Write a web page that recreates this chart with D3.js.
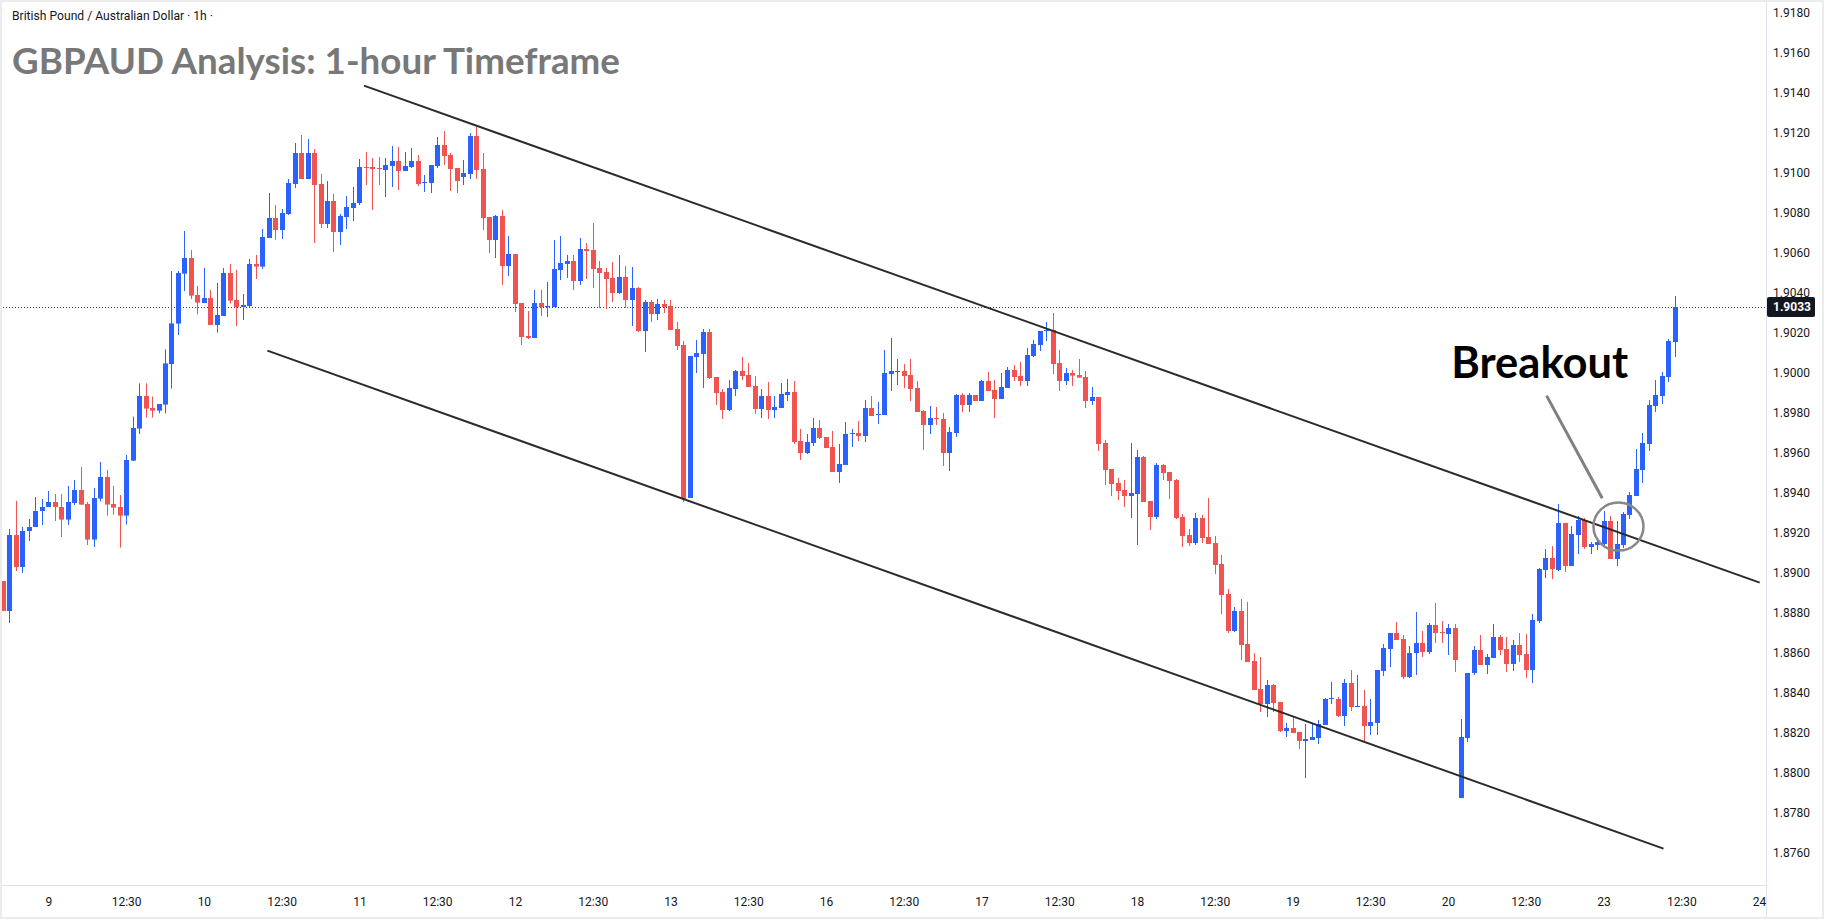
<!DOCTYPE html>
<html>
<head>
<meta charset="utf-8">
<script src="https://cdn.jsdelivr.net/npm/d3@7"></script>
<style>
  html, body { margin: 0; padding: 0; background: #fff; }
  svg { display: block; }
  .axis text { font-family: Roboto, "Liberation Sans", sans-serif; font-size: 12px; fill: #131722; }
  .axis path, .axis line { display: none; }
</style>
</head>
<body>
<svg id="chart" width="1824" height="919"></svg>
<script>
// GBPAUD 1h candles, oldest first
const opens = [1.8896,1.8881,1.8919,1.8903,1.8921,1.8923,1.8931,1.8933,1.89355,1.8933,1.89267,1.8935,1.89415,1.89345,1.89167,1.89372,1.8948,1.89345,1.8933,1.89287,
  1.89562,1.89722,1.89885,1.89825,1.89812,1.89842,1.90045,1.90247,1.90497,1.90575,1.9039,1.9035,1.90375,1.9024,1.90285,1.905,1.90365,1.9033,1.90335,1.90545,
  1.90532,1.90675,1.90775,1.90715,1.90795,1.90945,1.911,1.9097,1.911,1.90945,1.90745,1.9086,1.90705,1.9078,1.90825,1.9085,1.9103,1.9103,1.91025,1.91015,
  1.91035,1.9106,1.9101,1.9103,1.9106,1.9095,1.9095,1.91035,1.9114,1.9109,1.91025,1.9098,1.90995,1.91185,1.9102,1.9078,1.90665,1.90785,1.90535,1.90595,
  1.9035,1.90185,1.90175,1.9035,1.9033,1.9033,1.90515,1.90545,1.9056,1.9046,1.9062,1.90615,1.90525,1.90505,1.90475,1.904,1.9048,1.90365,1.90425,1.9021,
  1.90355,1.90295,1.90345,1.90335,1.9022,1.9014,1.89375,1.9008,1.90095,1.90205,1.8998,1.89905,1.89815,1.8992,1.9001,1.8999,1.89935,1.8982,1.89885,1.89815,
  1.89825,1.8989,1.89905,1.8966,1.896,1.8965,1.89725,1.8968,1.8963,1.89505,1.8954,1.89695,1.897,1.89685,1.89825,1.8979,1.8979,1.89995,1.90005,1.9001,
  1.8999,1.89925,1.8981,1.8974,1.89775,1.8977,1.896,1.897,1.8989,1.8984,1.8989,1.8986,1.8996,1.89915,1.8987,1.89925,1.90015,1.89985,1.8996,1.90085,
  1.9014,1.9021,1.90215,1.9005,1.8996,1.9,1.8999,1.8998,1.8986,1.8988,1.8965,1.8952,1.8945,1.89415,1.89385,1.89395,1.8958,1.8936,1.8928,1.8954,
  1.89505,1.89465,1.8928,1.8919,1.8915,1.89275,1.8918,1.8915,1.89045,1.88895,1.8871,1.8881,1.88645,1.8856,1.8842,1.88345,1.8844,1.88355,1.8821,1.88225,
  1.88205,1.8816,1.88165,1.88175,1.8824,1.8837,1.8837,1.88285,1.8845,1.8833,1.88335,1.88235,1.8825,1.8851,1.8862,1.887,1.8867,1.8848,1.886,1.8865,
  1.88605,1.8874,1.88705,1.88695,1.88725,1.87875,1.88175,1.885,1.88615,1.8854,1.88575,1.8868,1.8862,1.88545,1.8864,1.88595,1.88515,1.8876,1.89015,1.89075,
  1.89015,1.8925,1.89035,1.8919,1.89265,1.8913,1.8914,1.89145,1.8926,1.8907,1.8914,1.8929,1.89385,1.89515,1.89645,1.89835,1.89885,1.8998,1.90155];
const highs = [1.8896,1.8922,1.8936,1.8923,1.8927,1.8938,1.8937,1.8941,1.89395,1.89395,1.89435,1.89465,1.8953,1.89355,1.89425,1.89555,1.89515,1.89435,1.8939,1.8959,
  1.89782,1.89948,1.89948,1.89882,1.89845,1.90118,1.9051,1.9051,1.9071,1.90615,1.90435,1.90525,1.90415,1.9045,1.90525,1.90545,1.90515,1.90395,1.9057,1.9059,
  1.9072,1.909,1.9084,1.9082,1.9097,1.9115,1.9119,1.9117,1.9112,1.90995,1.9096,1.90895,1.90795,1.90885,1.9093,1.9107,1.91105,1.91075,1.9108,1.91075,
  1.91135,1.9113,1.91105,1.91125,1.9109,1.9099,1.9104,1.9118,1.9121,1.911,1.91025,1.91065,1.912,1.9123,1.911,1.9078,1.9079,1.90815,1.90685,1.90595,
  1.9035,1.9031,1.90415,1.90415,1.90455,1.90665,1.90685,1.9059,1.9059,1.90675,1.9065,1.9075,1.9056,1.90525,1.90555,1.9059,1.90535,1.9053,1.9043,1.90365,
  1.90365,1.9037,1.90365,1.90365,1.90255,1.9016,1.90085,1.90165,1.9022,1.9022,1.8998,1.8992,1.89965,1.90015,1.9008,1.9005,1.89985,1.8992,1.89955,1.89885,
  1.8995,1.8997,1.8996,1.8972,1.89695,1.89775,1.89765,1.8968,1.8971,1.89645,1.89755,1.8972,1.8976,1.89865,1.89885,1.89855,1.90115,1.90175,1.9007,1.90045,
  1.9007,1.8996,1.89815,1.89835,1.8983,1.898,1.8973,1.89895,1.899,1.899,1.8989,1.89965,1.90005,1.89965,1.9,1.9003,1.9004,1.90055,1.90125,1.90165,
  1.9021,1.90255,1.903,1.90115,1.90025,1.90015,1.9007,1.9001,1.8993,1.8988,1.89665,1.8952,1.89475,1.89465,1.8965,1.89615,1.89585,1.8936,1.8955,1.89545,
  1.89505,1.8947,1.89295,1.8922,1.893,1.8929,1.89375,1.89185,1.8909,1.8892,1.8883,1.8887,1.88855,1.886,1.8858,1.88465,1.88445,1.88355,1.8825,1.88285,
  1.88205,1.88245,1.88245,1.88265,1.88375,1.88455,1.8838,1.8847,1.88515,1.8849,1.88415,1.8837,1.88515,1.88645,1.887,1.88755,1.8869,1.88635,1.88805,1.8871,
  1.8875,1.8885,1.8876,1.88745,1.88745,1.8827,1.885,1.88635,1.8869,1.88595,1.88745,1.8869,1.8868,1.88665,1.887,1.88695,1.88795,1.89025,1.8912,1.89135,
  1.89345,1.8925,1.89235,1.89285,1.89275,1.89155,1.8917,1.8931,1.89285,1.8926,1.89305,1.89405,1.8962,1.897,1.89865,1.89965,1.90005,1.9017,1.90385];
const lows = [1.8881,1.8875,1.8901,1.89,1.8916,1.8923,1.8924,1.8933,1.8926,1.8918,1.8924,1.8934,1.8934,1.8914,1.8913,1.89357,1.89287,1.89292,1.89127,1.89242,
  1.8956,1.89695,1.89777,1.89777,1.89798,1.89798,1.89922,1.9019,1.9041,1.9037,1.90293,1.9035,1.9024,1.90202,1.90285,1.90347,1.90235,1.90265,1.9033,1.9047,
  1.9052,1.90675,1.90667,1.9067,1.9079,1.90925,1.9097,1.9097,1.9065,1.90725,1.90725,1.90605,1.9064,1.9072,1.9076,1.9084,1.9094,1.90815,1.9094,1.9088,
  1.9093,1.90915,1.9101,1.91025,1.90935,1.90905,1.909,1.91025,1.9104,1.9091,1.909,1.9094,1.9097,1.9097,1.90715,1.906,1.90575,1.9044,1.90485,1.90305,
  1.9014,1.9017,1.90175,1.90285,1.9028,1.9033,1.90465,1.90475,1.90415,1.9044,1.9047,1.90425,1.90325,1.9032,1.90355,1.90395,1.90325,1.90235,1.90205,1.90105,
  1.90255,1.90265,1.903,1.90215,1.90115,1.89355,1.89375,1.9,1.89925,1.8997,1.8984,1.8977,1.8981,1.89885,1.89965,1.8993,1.89795,1.89775,1.8977,1.89775,
  1.89825,1.8986,1.89645,1.89565,1.89595,1.89635,1.8967,1.89625,1.89505,1.8945,1.8954,1.8963,1.8966,1.89655,1.89785,1.89745,1.8979,1.8991,1.8994,1.89925,
  1.8986,1.89805,1.89615,1.89695,1.8974,1.89535,1.8951,1.8968,1.89805,1.89805,1.8986,1.8986,1.8991,1.89775,1.8987,1.89925,1.8996,1.89935,1.89935,1.9008,
  1.9011,1.9016,1.89995,1.8991,1.8994,1.89935,1.89977,1.89825,1.8984,1.8961,1.8944,1.89385,1.89365,1.8933,1.89275,1.8914,1.89355,1.89215,1.8927,1.89465,
  1.8937,1.8927,1.8913,1.89135,1.8914,1.8915,1.89145,1.88995,1.88795,1.887,1.88705,1.88565,1.88555,1.88415,1.88305,1.8828,1.88305,1.88205,1.8818,1.882,
  1.8812,1.87975,1.88165,1.88145,1.8824,1.88345,1.8828,1.88235,1.8831,1.8833,1.88155,1.8819,1.8819,1.88485,1.8853,1.88665,1.8847,1.88475,1.8849,1.8858,
  1.88595,1.8865,1.8865,1.8859,1.88505,1.87875,1.88155,1.8849,1.8854,1.88495,1.88575,1.8859,1.88505,1.8851,1.88555,1.88475,1.8845,1.8875,1.88975,1.8897,
  1.8901,1.89005,1.89035,1.89095,1.8912,1.89095,1.89115,1.8914,1.8907,1.89035,1.89125,1.8927,1.89385,1.8945,1.8961,1.89805,1.89845,1.89955,1.9008];
const closes = [1.8881,1.8919,1.8903,1.8921,1.8923,1.8931,1.8933,1.89355,1.8933,1.89267,1.89355,1.89415,1.89342,1.89167,1.89375,1.8948,1.89342,1.89327,1.89287,1.89565,
  1.89725,1.89885,1.89822,1.89812,1.89845,1.90048,1.90248,1.905,1.90575,1.90387,1.90352,1.90375,1.9024,1.9029,1.905,1.90362,1.9033,1.9034,1.90545,1.90532,
  1.9068,1.90775,1.90715,1.908,1.9095,1.911,1.9097,1.911,1.9094,1.90745,1.9086,1.90705,1.90785,1.9083,1.9085,1.9103,1.91025,1.9102,1.9102,1.9104,
  1.9106,1.9101,1.91035,1.9106,1.90945,1.90955,1.9104,1.9114,1.91085,1.9102,1.9096,1.91,1.91185,1.91015,1.90775,1.90665,1.90785,1.90535,1.90595,1.90345,
  1.9018,1.90175,1.9035,1.9033,1.90335,1.9052,1.9055,1.9056,1.9046,1.9062,1.9061,1.9052,1.905,1.9047,1.904,1.9048,1.90365,1.90425,1.9021,1.90355,
  1.90295,1.90345,1.9033,1.90215,1.90135,1.8937,1.90085,1.901,1.90205,1.89975,1.899,1.89815,1.89925,1.9001,1.89985,1.8993,1.8982,1.89885,1.89815,1.8983,
  1.89895,1.89905,1.89655,1.896,1.89655,1.89725,1.89675,1.89625,1.89505,1.89545,1.89695,1.897,1.89685,1.89825,1.89785,1.89795,1.9,1.9001,1.9001,1.89985,
  1.8992,1.89805,1.8974,1.89775,1.8977,1.896,1.89705,1.8989,1.8984,1.8989,1.8986,1.8996,1.8991,1.8987,1.8993,1.90015,1.8998,1.8996,1.9009,1.90145,
  1.9021,1.90215,1.90045,1.8996,1.9,1.89987,1.89977,1.8986,1.8988,1.89645,1.89515,1.89445,1.8941,1.89385,1.894,1.8958,1.89355,1.8928,1.8954,1.895,
  1.8946,1.89275,1.89185,1.8915,1.89275,1.89175,1.89145,1.8904,1.8889,1.8871,1.8881,1.8864,1.88555,1.88415,1.88345,1.8844,1.8835,1.8821,1.88225,1.882,
  1.8816,1.8817,1.8818,1.88245,1.8837,1.88375,1.88285,1.8845,1.8833,1.88335,1.88235,1.88255,1.88515,1.88625,1.887,1.88665,1.8848,1.886,1.8865,1.88605,
  1.8874,1.887,1.887,1.88725,1.88565,1.8818,1.885,1.88615,1.8854,1.8858,1.8868,1.88615,1.88545,1.8864,1.8859,1.88515,1.88765,1.8902,1.89075,1.8902,
  1.8925,1.89035,1.89195,1.89265,1.8913,1.89145,1.89155,1.8926,1.8907,1.89145,1.89295,1.8939,1.8952,1.8965,1.8984,1.8989,1.89985,1.9016,1.9033];

// time axis: a label every 12 bars, starting with day 9
const timeLabels = ["9","12:30","10","12:30","11","12:30","12","12:30","13","12:30","16","12:30",
  "17","12:30","18","12:30","19","12:30","20","12:30","23","12:30","24"];
const firstLabelBar = 7;
const priceTicks = d3.range(1.876, 1.9181, 0.002);
const lastPrice = 1.9033;

// drawings on the chart (bar index, price)
const upperChannel = [[55.7, 1.91437], [271.1, 1.88952]];
const lowerChannel = [[40.8, 1.90112], [256.25, 1.87622]];
const breakoutCircle = [249.3, 1.89232];
const breakoutPointer = [[238.2, 1.89887], [246.8, 1.89374]];
const breakoutText = [223.5, 1.89975];

const W = 1824, H = 919;
const plotRight = 1766, plotBottom = 885;
const blue = "#2962ff", red = "#f05350";

const svg = d3.select("#chart");

const x = d3.scaleLinear().domain([0, 271]).range([3, 3 + 6.48 * 271]);
const y = d3.scaleLinear().domain([1.876, 1.918]).range([853, 13]);

svg.append("rect").attr("width", W).attr("height", H).attr("fill", "#fff");

svg.append("clipPath").attr("id", "plotClip")
  .append("rect").attr("x", 2).attr("y", 2).attr("width", plotRight - 2).attr("height", plotBottom - 2);

const plot = svg.append("g").attr("clip-path", "url(#plotClip)");

// last price dotted line
plot.append("line")
  .attr("x1", 0).attr("x2", plotRight)
  .attr("y1", Math.round(y(lastPrice)) + 0.5).attr("y2", Math.round(y(lastPrice)) + 0.5)
  .attr("stroke", "#363a45").attr("stroke-width", 1).attr("stroke-dasharray", "1,2");

const bars = d3.range(opens.length);
const candles = plot.append("g");

candles.selectAll(".wick")
  .data(bars)
  .enter().append("line")
  .attr("class", "wick")
  .attr("x1", i => Math.round(x(i)) + 0.5)
  .attr("x2", i => Math.round(x(i)) + 0.5)
  .attr("y1", i => y(highs[i]))
  .attr("y2", i => y(lows[i]))
  .attr("stroke", i => closes[i] >= opens[i] ? blue : red)
  .attr("stroke-width", 1);

candles.selectAll(".body")
  .data(bars)
  .enter().append("rect")
  .attr("class", "body")
  .attr("x", i => Math.round(x(i)) - 2)
  .attr("width", 5)
  .attr("y", i => y(Math.max(opens[i], closes[i])))
  .attr("height", i => Math.max(1, Math.abs(y(opens[i]) - y(closes[i]))))
  .attr("fill", i => closes[i] >= opens[i] ? blue : red);

// channel lines
const line = d3.line().x(d => x(d[0])).y(d => y(d[1]));
[upperChannel, lowerChannel].forEach(pts => {
  plot.append("path").attr("d", line(pts))
    .attr("fill", "none").attr("stroke", "#2b2b2b").attr("stroke-width", 2);
});

// breakout marker
plot.append("ellipse")
  .attr("cx", x(breakoutCircle[0])).attr("cy", y(breakoutCircle[1]))
  .attr("rx", 25).attr("ry", 24)
  .attr("fill", "none").attr("stroke", "#888", ).attr("stroke-width", 2.5);
plot.append("path").attr("d", line(breakoutPointer))
  .attr("fill", "none").attr("stroke", "#808080").attr("stroke-width", 3);

function fitText(sel, width) {
  const fs = parseFloat(sel.attr("font-size"));
  const w = sel.node().getComputedTextLength();
  sel.attr("font-size", (fs * width / w).toFixed(2));
}

const bo = plot.append("text")
  .attr("x", x(breakoutText[0])).attr("y", y(breakoutText[1]))
  .attr("font-family", "Lato, 'Open Sans', sans-serif").attr("font-weight", 700)
  .attr("font-size", 40).attr("fill", "#000")
  .text("Breakout");
fitText(bo, 177);

// axes
const yAxis = d3.axisRight(y).tickValues(priceTicks).tickFormat(d3.format(".4f")).tickSize(0).tickPadding(7);
svg.append("g").attr("class", "axis").attr("transform", `translate(${plotRight},0)`).call(yAxis);

const tickBars = timeLabels.map((d, k) => firstLabelBar + 12 * k);
const xAxis = d3.axisBottom(x).tickValues(tickBars).tickFormat((d, k) => timeLabels[k]).tickSize(0).tickPadding(12);
svg.append("g").attr("class", "axis").attr("transform", `translate(0,${plotBottom})`).call(xAxis);

// axis separators
svg.append("line").attr("x1", plotRight + 0.5).attr("x2", plotRight + 0.5).attr("y1", 0).attr("y2", H)
  .attr("stroke", "#e0e3eb");
svg.append("line").attr("x1", 0).attr("x2", plotRight).attr("y1", plotBottom + 0.5).attr("y2", plotBottom + 0.5)
  .attr("stroke", "#e0e3eb");

// last price label
const ly = y(lastPrice);
svg.append("rect").attr("x", plotRight + 1).attr("y", Math.round(ly) - 10).attr("width", 48).attr("height", 20)
  .attr("rx", 2).attr("fill", "#131722");
svg.append("text").attr("x", plotRight + 7).attr("y", ly).attr("dy", "0.35em")
  .attr("font-family", "Roboto, sans-serif").attr("font-size", 12).attr("font-weight", 700)
  .attr("fill", "#fff").text(d3.format(".4f")(lastPrice));

// titles
const sym = svg.append("text").attr("x", 12).attr("y", 20)
  .attr("font-family", "Roboto, sans-serif").attr("font-size", 12).attr("fill", "#131722")
  .text("British Pound / Australian Dollar · 1h ·");
fitText(sym, 201);

const title = svg.append("text").attr("x", 12).attr("y", 74)
  .attr("font-family", "Lato, 'Open Sans', sans-serif").attr("font-weight", 700)
  .attr("font-size", 36).attr("fill", "#787878")
  .text("GBPAUD Analysis: 1-hour Timeframe");
fitText(title, 608);

// outer frame
svg.append("rect").attr("x", 1).attr("y", 1).attr("width", W - 2).attr("height", H - 2)
  .attr("fill", "none").attr("stroke", "#ececec").attr("stroke-width", 2);
</script>
</body>
</html>
